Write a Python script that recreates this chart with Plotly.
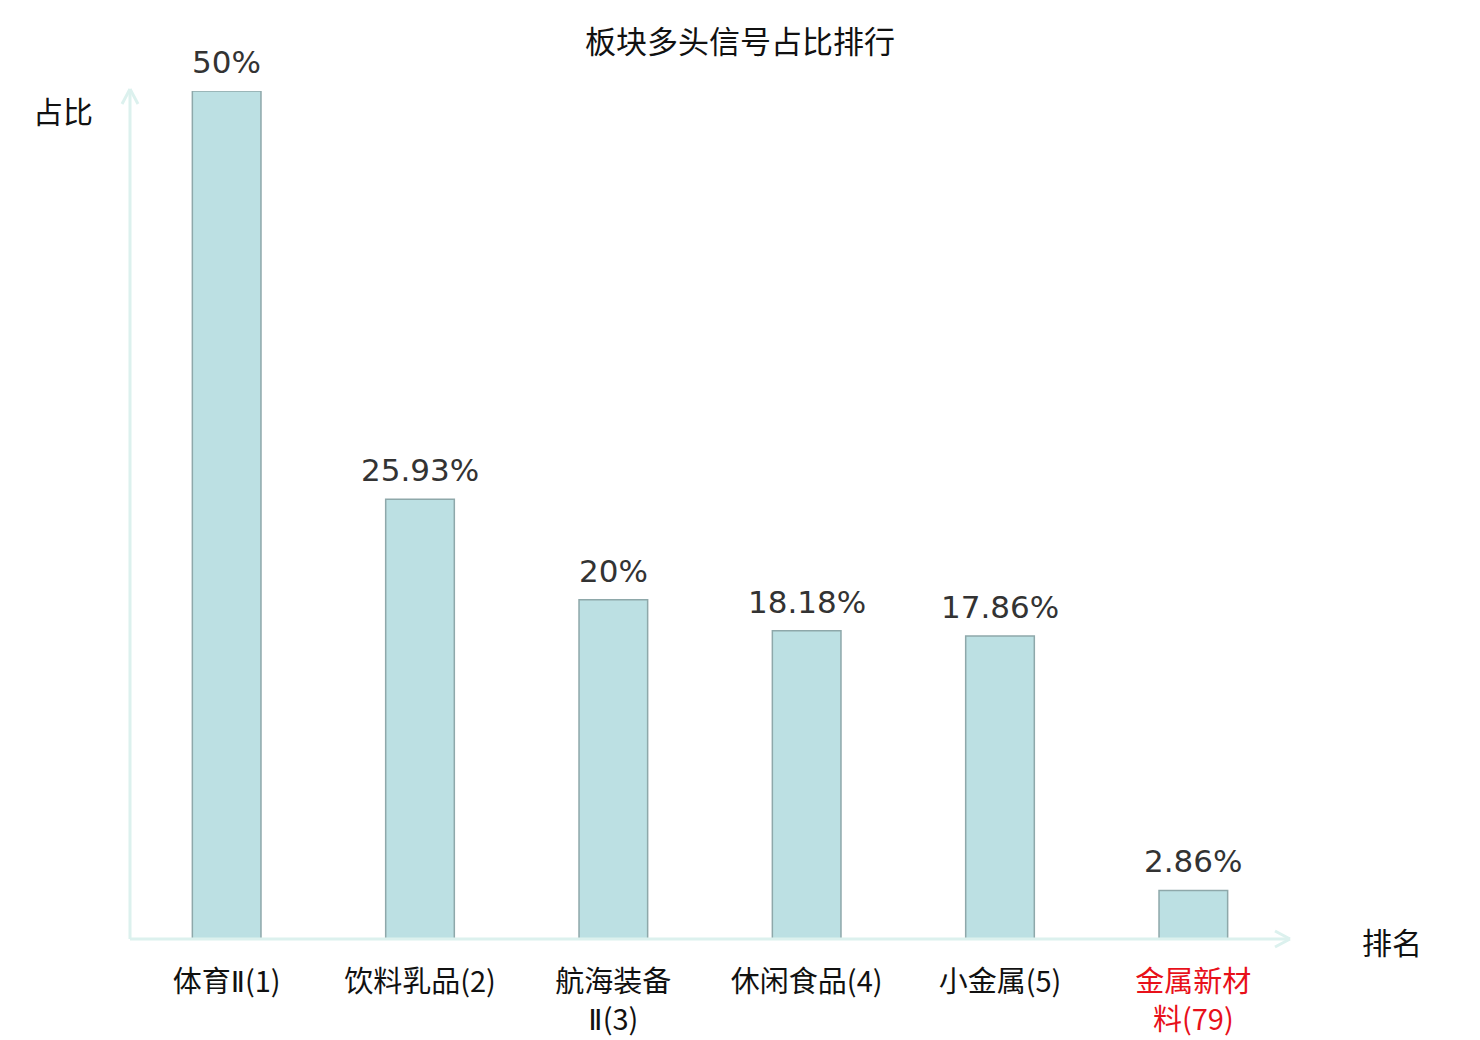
import plotly.graph_objects as go

II = "<span style='font-family:DejaVu Sans'>Ⅱ</span>"
categories = [f"体育{II}(1)", "饮料乳品(2)", f"航海装备<br>{II}(3)", "休闲食品(4)", "小金属(5)", "金属新材<br>料(79)"]
values = [50, 25.93, 20, 18.18, 17.86, 2.86]
labels = ["50%", "25.93%", "20%", "18.18%", "17.86%", "2.86%"]
highlight = [False, False, False, False, False, True]

OFF = 8  # page offset of the figure inside the browser
W, H = 1480 - 2 * OFF, 1040 - OFF
# plot area in page pixels
PX0, PX1, PY0, PY1 = 130, 1290, 91, 939
L = PX0 - OFF
R = W - (PX1 - OFF)
T = PY0 - OFF
B = H - (PY1 - OFF)
pw, ph = PX1 - PX0, PY1 - PY0

def px(xp): return (xp - PX0) / pw
def py(yp): return (PY1 - yp) / ph

ticktext = [f"<span style='color:#e8101a'>{c}</span>" if h else c for c, h in zip(categories, highlight)]
xs = list(range(len(categories)))

fig = go.Figure()
fig.add_trace(go.Bar(
    x=xs, y=values, width=0.355,
    marker=dict(color="#bce0e3", line=dict(color="#8ea8aa", width=1.5)),
    hoverinfo="skip",
))

axc = "#dcf1ee"
shapes = [
    dict(type="line", xref="paper", yref="paper", x0=0, y0=0, x1=0, y1=py(89), line=dict(color=axc, width=3)),
    dict(type="line", xref="paper", yref="paper", x0=px(122), y0=py(104), x1=0, y1=py(89), line=dict(color=axc, width=3)),
    dict(type="line", xref="paper", yref="paper", x0=px(138), y0=py(104), x1=0, y1=py(89), line=dict(color=axc, width=3)),
    dict(type="line", xref="paper", yref="paper", x0=0, y0=0, x1=px(1290), y1=0, line=dict(color=axc, width=3)),
    dict(type="line", xref="paper", yref="paper", x0=px(1275), y0=py(931), x1=px(1290), y1=0, line=dict(color=axc, width=3)),
    dict(type="line", xref="paper", yref="paper", x0=px(1275), y0=py(947), x1=px(1290), y1=0, line=dict(color=axc, width=3)),
]

cjk = "Noto Sans CJK SC"
annotations = [
    dict(text="占比", xref="paper", yref="paper", x=px(63), y=py(110), showarrow=False,
         font=dict(family=cjk, size=30, color="#111111"), xanchor="center", yanchor="middle"),
    dict(text="排名", xref="paper", yref="paper", x=px(1392), y=py(941), showarrow=False,
         font=dict(family=cjk, size=30, color="#111111"), xanchor="center", yanchor="middle"),
]
for xv, yv, lab in zip(xs, values, labels):
    annotations.append(dict(text=lab, x=xv, y=yv, xref="x", yref="y", showarrow=False,
                            xanchor="center", yanchor="bottom", yshift=9,
                            font=dict(family="DejaVu Sans", size=31, color="#333333")))

fig.update_layout(
    width=W, height=H,
    margin=dict(l=L, r=R, t=T, b=B, pad=0, autoexpand=False),
    paper_bgcolor="white", plot_bgcolor="white",
    title=dict(text="板块多头信号占比排行", x=px(740), xref="paper", xanchor="center",
               y=1 - (42 - OFF) / H, yanchor="middle",
               font=dict(family=cjk, size=31, color="#111111")),
    showlegend=False,
    xaxis=dict(tickmode="array", tickvals=xs, ticktext=ticktext, range=[-0.5, len(categories) - 0.5],
               showline=False, showgrid=False, zeroline=False, ticks="outside", ticklen=17,
               automargin=False,
               tickcolor="rgba(0,0,0,0)", tickfont=dict(family=cjk, size=29, color="#111111")),
    yaxis=dict(range=[0, 50], showticklabels=False, showgrid=False, zeroline=False, showline=False,
               ticks="", automargin=False),
    shapes=shapes, annotations=annotations,
)

fig.write_html("out.html")
